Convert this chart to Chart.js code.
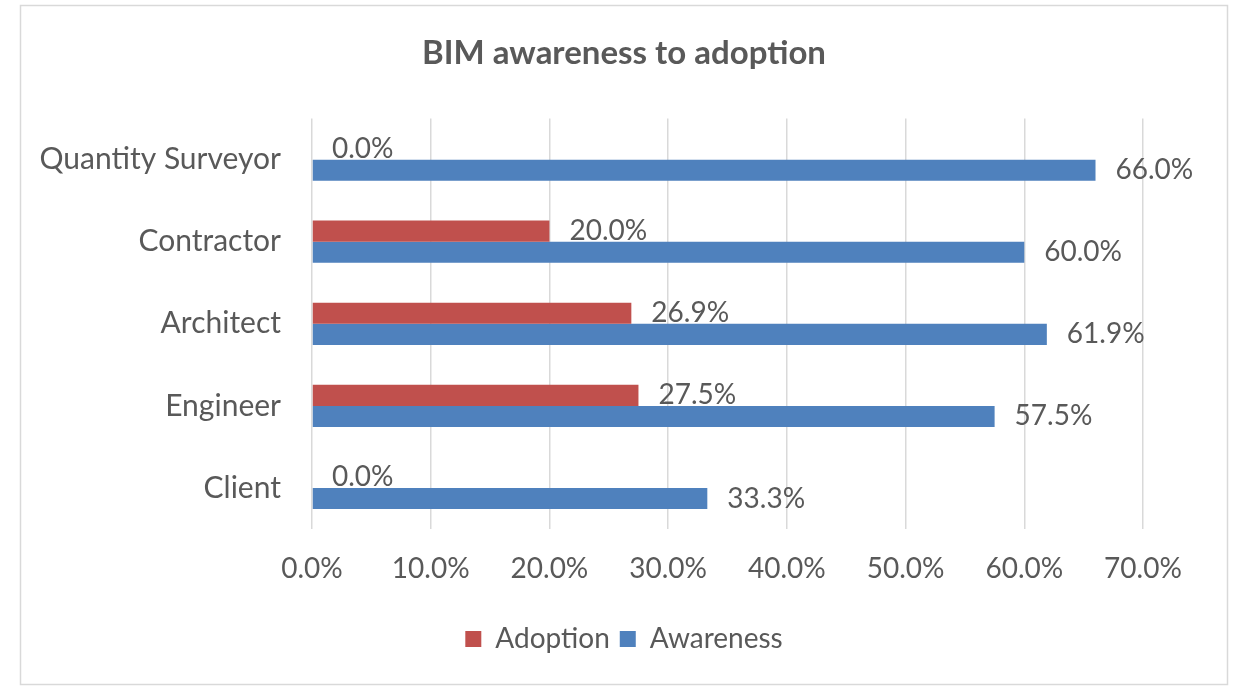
<!DOCTYPE html>
<html>
<head>
<meta charset="utf-8">
<script src="https://cdn.jsdelivr.net/npm/chart.js@4"></script>
<style>
  html, body { margin: 0; padding: 0; background: #fff; }
  #wrap { width: 1244px; height: 690px; position: relative; }
</style>
</head>
<body>
<div id="wrap"><canvas id="chart"></canvas></div>
<script>
  // data
  const categories = ["Quantity Surveyor", "Contractor", "Architect", "Engineer", "Client"];
  const adoption = [0.0, 20.0, 26.9, 27.5, 0.0];
  const awareness = [66.0, 60.0, 61.9, 57.5, 33.3];
  const seriesNames = ["Adoption", "Awareness"];
  const xTicks = [0, 10, 20, 30, 40, 50, 60, 70];

  const textColor = "#595959";
  const fontFamily = "Lato, 'Noto Sans', sans-serif";

  // outer frame like the office chart box
  const framePlugin = {
    id: "frame",
    beforeDraw(chart) {
      const c = chart.ctx;
      c.save();
      c.fillStyle = "#fff";
      c.fillRect(0, 0, chart.width, chart.height);
      c.strokeStyle = "#d9d9d9";
      c.lineWidth = 1.5;
      c.strokeRect(20.5, 5.5, 1207, 679);
      c.restore();
    }
  };

  // value labels at bar ends
  const valueLabels = {
    id: "valueLabels",
    afterDatasetsDraw(chart) {
      const c = chart.ctx;
      c.save();
      c.font = "28px " + fontFamily;
      c.fillStyle = textColor;
      c.textAlign = "left";
      c.textBaseline = "middle";
      chart.data.datasets.forEach((ds, i) => {
        const meta = chart.getDatasetMeta(i);
        meta.data.forEach((bar, j) => {
          c.fillText(ds.data[j].toFixed(1) + "%", bar.x + 20, bar.y);
        });
      });
      c.restore();
    }
  };

  const ctx = document.getElementById("chart");
  const myChart = new Chart(ctx, {
    type: "bar",
    data: {
      labels: categories,
      datasets: [
        { label: seriesNames[0], data: adoption, backgroundColor: "#C0504D" },
        { label: seriesNames[1], data: awareness, backgroundColor: "#4F81BD" }
      ]
    },
    options: {
      indexAxis: "y",
      responsive: true,
      maintainAspectRatio: false,
      animation: false,
      categoryPercentage: 0.515,
      barPercentage: 1.0,
      layout: { padding: { left: 20, right: 16, top: 5, bottom: 27 } },
      scales: {
        x: {
          min: 0,
          max: 70,
          afterBuildTicks(scale) { scale.ticks = xTicks.map(v => ({ value: v })); },
          afterFit(scale) { scale.height = 86; },
          grid: { color: "#d9d9d9", lineWidth: 1.5, drawTicks: false },
          border: { display: false },
          ticks: {
            color: textColor,
            font: { family: fontFamily, size: 28 },
            padding: 23,
            callback: v => v.toFixed(1) + "%"
          }
        },
        y: {
          afterFit(scale) { scale.width = 292; },
          grid: { display: false, drawTicks: false },
          border: { display: false },
          ticks: {
            color: textColor,
            font: { family: fontFamily, size: 30 },
            padding: 31
          }
        },
        // empty right-hand axis: keeps room for the value labels
        yRight: {
          axis: "y",
          type: "category",
          position: "right",
          afterFit(scale) { scale.width = 85; },
          grid: { display: false, drawTicks: false },
          border: { display: false },
          ticks: { display: false }
        }
      },
      plugins: {
        title: {
          display: true,
          text: "BIM awareness to adoption",
          color: textColor,
          font: { family: fontFamily, size: 33, weight: "bold" },
          padding: { top: 29, bottom: 45 }
        },
        legend: {
          position: "bottom",
          labels: {
            color: textColor,
            font: { family: fontFamily, size: 28 },
            boxWidth: 16,
            boxHeight: 16,
            padding: 10
          }
        },
        tooltip: { enabled: false }
      }
    },
    plugins: [framePlugin, valueLabels]
  });
</script>
</body>
</html>
